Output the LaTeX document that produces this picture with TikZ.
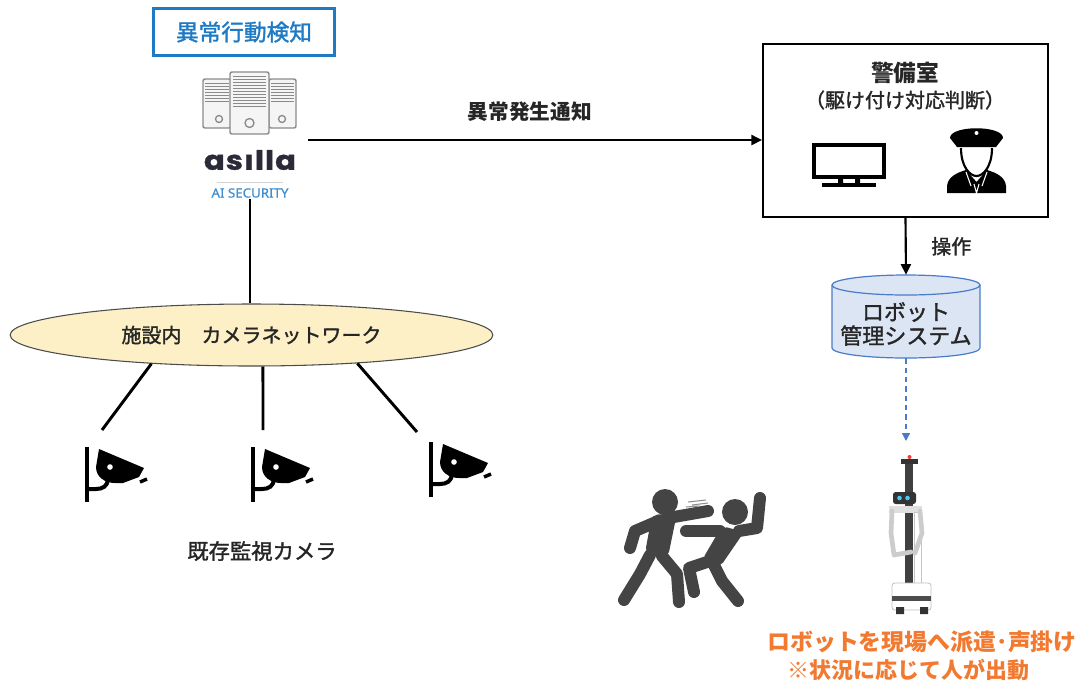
\documentclass[tikz,border=0pt]{standalone}
\usepackage{fontspec}
\setmainfont{Noto Sans CJK JP}
\newfontfamily\medium{Noto Sans CJK JP}[FakeBold=1.5]
\newfontfamily\logofont{Poppins}[FakeStretch=1.15, FakeBold=1.2, LetterSpace=4]
\newfontfamily\latinfont{Noto Sans}[FakeStretch=1.05, FakeBold=0.8]
\usetikzlibrary{arrows.meta,positioning,shapes.geometric}
\definecolor{alertblue}{HTML}{1F7AC4}
\definecolor{netfill}{HTML}{FDF0C6}
\definecolor{dbfill}{HTML}{DCE5F4}
\definecolor{dbline}{HTML}{4A7BC8}
\definecolor{dispatch}{HTML}{F27A30}
\definecolor{figgray}{HTML}{444444}
\definecolor{txtgray}{HTML}{262626}
\definecolor{srvgray}{HTML}{8A8A8A}
\definecolor{logonavy}{HTML}{2B2B38}

\newcommand{\fs}[1]{\fontsize{#1}{1.2\dimexpr#1\relax}\selectfont}

\tikzset{
  link/.style={line width=2.2pt, draw=black},
  flow/.style={line width=1.6pt, -{Triangle[length=8pt,width=7.5pt]}},
  dashflow/.style={line width=1pt, dbline, dash pattern=on 4pt off 3pt, -{Triangle[length=6pt,width=6pt]}},
  fighter/.style={figgray, line width=9pt, line cap=round, line join=round},
  srvbox/.style={draw=srvgray, fill=gray!8, line width=1.1pt, rounded corners=1.5pt},
  camera/.pic={
    \draw[line width=3pt] (0,0) -- (0,55);
    \draw[line width=3pt] (0,42) -- (9,42) .. controls (16,42) and (20,39) .. (21,33);
    \fill (12,2) -- (57,21) -- (52,30) -- (36,36) -- (28,36) .. controls (18,36) and (9,30) .. (9,20) -- cycle;
    \fill[white] (23,20) circle (2.8);
    \draw[line width=2.6pt] (53,35) -- (60,32);
  }
}

\begin{document}
\begin{tikzpicture}[x=0.75pt, y=-0.75pt,
  every node/.style={text=txtgray, font=\medium\fs{15pt}}]
\useasboundingbox (0,0) rectangle (1085,687);

% detection server
\node[draw=alertblue, line width=2.2pt, minimum width=136pt, minimum height=35pt,
      text=alertblue, font=\medium\fs{17pt}] (detect) at (244,32) {異常行動検知};
\draw[srvbox] (203,79) rectangle (231,128);
\draw[srvbox] (269,79) rectangle (296,128);
\draw[srvbox] (230,72) rectangle (269,134);
\foreach \y in {83,86,...,101} {
  \draw[srvgray, line width=0.6pt] (205,\y) -- (229,\y);
  \draw[srvgray, line width=0.6pt] (271,\y) -- (294,\y);
}
\foreach \y in {76,79,...,106}
  \draw[srvgray, line width=0.6pt] (233,\y) -- (266,\y);
\draw[srvgray, line width=1pt] (219,119) circle (3.5) (282,119) circle (3.5) (249.5,123) circle (4.5);
\node[text=logonavy, font={\logofont\fs{20pt}\bfseries}, inner sep=0pt] (logo) at (250,160) {asılla};
\draw[gray!35, line width=0.5pt] (217,182) -- (283,182);
\node[text=alertblue!85, font={\latinfont\fs{9.5pt}}, inner sep=1pt] (sec) at (250,193) {AI SECURITY};

% camera network
\node[ellipse, draw=gray!60!black, line width=0.8pt, fill=netfill, inner sep=0pt,
      minimum width=362pt, minimum height=46.5pt] (net) at (251.5,335) {施設内　カメラネットワーク};
\draw[link] (sec.south) -- (sec.south |- net.north);

\pic at (87,447) {camera};
\pic at (253,447) {camera};
\pic at (431,442) {camera};
\coordinate (cam1) at (102,430);
\coordinate (cam2) at (263,430);
\coordinate (cam3) at (417,432);
\draw[link] (net.196) -- (cam1);
\draw[link] (net.290) -- (cam2);
\draw[link] (net.345) -- (cam3);
\node[font=\medium\fs{16pt}] (camlabel) at (262,551) {既存監視カメラ};

% security room
\node[draw, line width=1.4pt, minimum width=213.75pt, minimum height=129.75pt] (room) at (905.5,130.5) {};
\node[font=\fs{17pt}\bfseries] (roomtitle) at (905,73) {警備室};
\node[font=\medium\fs{15pt}] (roomsub) at (905,100) {（駆け付け対応判断）};
\draw[line width=3pt] (813.5,144.5) rectangle (884,176.5);
\fill (838,177) rectangle (843,184) (855,177) rectangle (860,184);
\fill (822,183) rectangle (876,186.5);
% guard
\fill (950,138) .. controls (950,125) and (1003,125) .. (1003,138) -- (996,147) -- (957,147) -- cycle;
\fill[white] (976.5,133) circle (2);
\draw[line width=1.6pt, fill=white] (961,148) .. controls (961,167) and (970,176) .. (976.5,176) .. controls (983,176) and (992,167) .. (992,148);
\fill (947,193) -- (947,186) .. controls (948,177) and (956,173) .. (966,170) -- (976.5,182) -- (987,170) .. controls (997,173) and (1005,177) .. (1006,186) -- (1006,193) -- cycle;
\draw[white, line width=0.8pt] (966,172) -- (971,186) (987,172) -- (982,186) (974,184) -- (976.5,193) -- (979,184);

\coordinate (alarm) at (308,140);
\draw[flow] (alarm) -- (alarm -| room.west)
  node[midway, yshift=21.5pt, xshift=-4pt, font=\fs{15.5pt}\bfseries] {異常発生通知};

% robot management system
\node[minimum width=111pt, minimum height=62.25pt, inner sep=0pt] (sys) at (906,316.5) {};
\fill[dbfill] (832,285) -- (832,348) arc[start angle=180, end angle=0, x radius=74, y radius=10]
  -- (980,285) arc[start angle=0, end angle=-180, x radius=74, y radius=10] -- cycle;
\draw[dbline, line width=0.9pt] (832,285) -- (832,348) arc[start angle=180, end angle=0, x radius=74, y radius=10] -- (980,285);
\draw[dbline, line width=0.9pt] (906,285) ellipse [x radius=74, y radius=10];
\node[font=\medium\fs{16.5pt}, align=center, inner sep=0pt] (systext) at (906,324) {ロボット\\[-2pt]管理システム};
\draw[flow] (room.south) -- (sys.north) node[midway, right=15pt] {操作};

\coordinate (bot) at (906,441);
\draw[dashflow] (sys.south) -- (bot);

% fight
\fill[figgray] (665,502) circle (13);
\fill[figgray] (735,512) circle (13);
\fill[figgray, rounded corners=4pt] (652,515) -- (677,513) -- (668,557) -- (645,553) -- cycle;
\draw[fighter] (668,518) -- (708,511);
\draw[fighter] (656,522) -- (635,531) -- (630,548);
\draw[fighter] (650,555) -- (640,574) -- (624,600);
\draw[fighter] (662,556) -- (677,574) -- (679,602);
\fill[figgray, rounded corners=4pt] (722,526) -- (744,532) -- (720,567) -- (702,560) -- cycle;
\draw[fighter] (739,531) -- (757,528) -- (760,498);
\draw[fighter] (720,531) -- (686,531);
\draw[fighter] (707,562) -- (689,568) -- (694,592);
\draw[fighter] (714,565) -- (722,581) -- (738,601);
\draw[figgray!60, line width=0.8pt] (688,502) -- (706,500) (692,505) -- (708,503) (686,507) -- (700,506);

% robot
\fill[black!75] (905,462) rectangle (913,590);
\fill[black!80] (901,459) rectangle (918,464);
\fill[red!80] (909.5,457) circle (2);
\fill[black!80, rounded corners=2pt] (893,492) rectangle (916,504);
\fill[cyan!70] (899.5,498) circle (2.3) (907.5,498) circle (2.3);
\fill[gray!25] (889,506) rectangle (922,513);
\fill[white, draw=gray!45, line width=0.6pt] (914,512) rectangle (921,585);
\draw[gray!40, line width=3.5pt, line cap=round, line join=round] (892,511) -- (891,533) -- (894,555) -- (911,552);
\draw[gray!40, line width=3.5pt, line cap=round, line join=round] (920,511) -- (922,533) -- (915,553);
\draw[fill=white, draw=gray!50, line width=0.6pt, rounded corners=2pt] (892,583) rectangle (931,610);
\fill[black!70] (892,596) rectangle (931,601);
\fill[black!80] (896,607) rectangle (904,614) (920,607) rectangle (928,614);

\node[text=dispatch, font=\fs{17.2pt}\bfseries] (task1) at (922,642) {ロボットを現場へ派遣･声掛け};
\node[text=dispatch, font=\fs{16.5pt}\bfseries] (task2) at (908,670) {※状況に応じて人が出動};
\end{tikzpicture}
\end{document}
